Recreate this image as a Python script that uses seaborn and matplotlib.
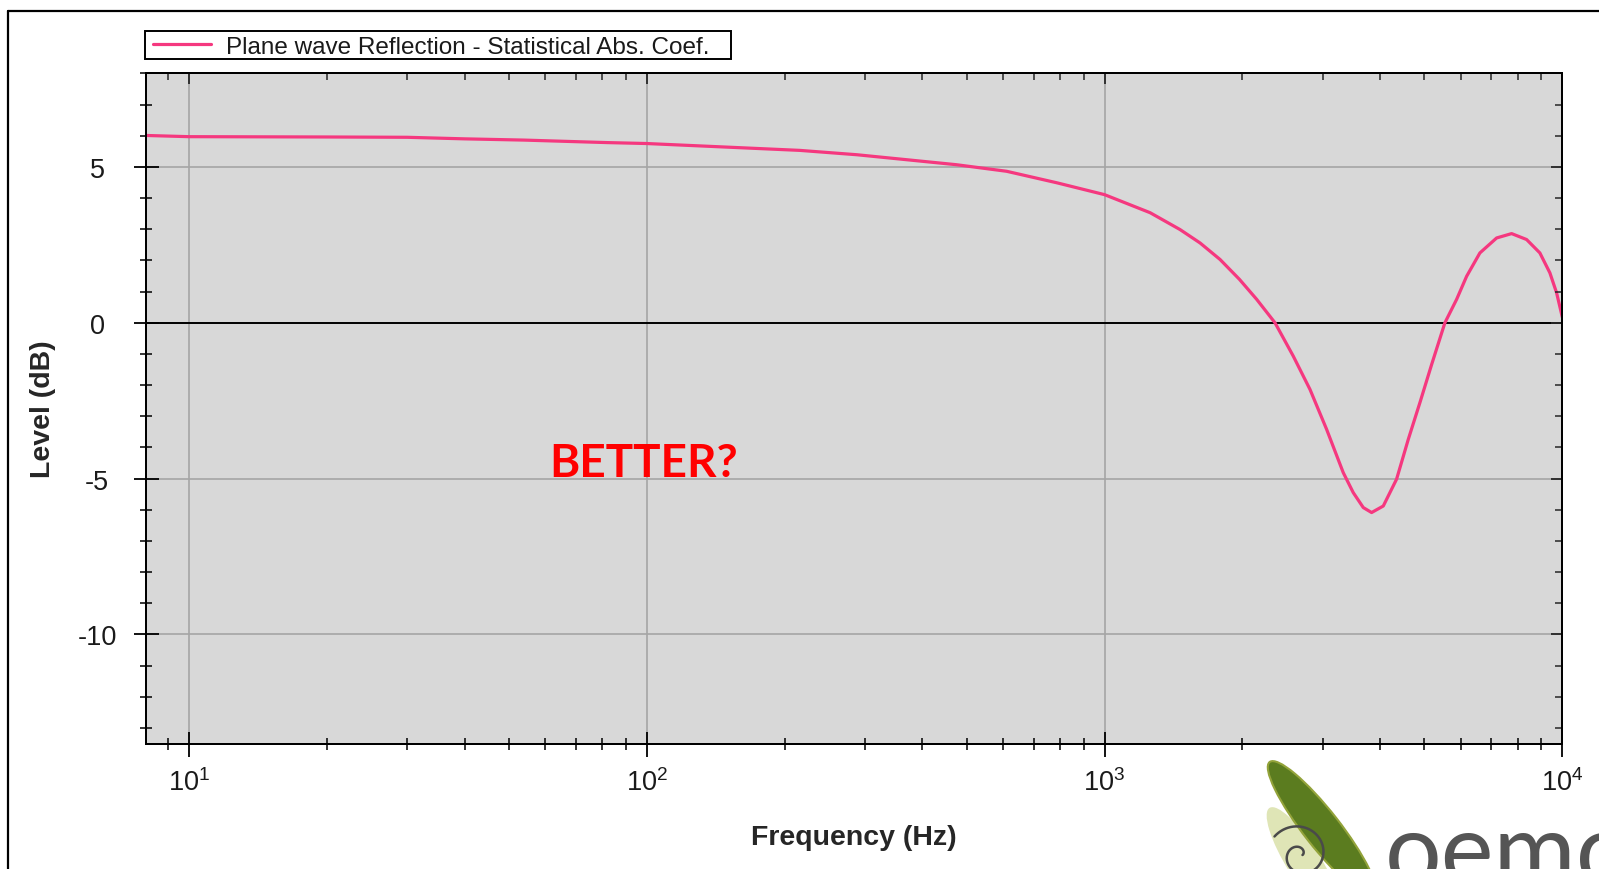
import numpy as np
import pandas as pd
import matplotlib
matplotlib.use("Agg")
import matplotlib.pyplot as plt
import seaborn as sns
from matplotlib.lines import Line2D
from matplotlib.patches import Ellipse, Rectangle
from matplotlib.transforms import IdentityTransform
from matplotlib.ticker import LogLocator, MultipleLocator, NullFormatter

# Plane-wave reflection level versus frequency
freq_hz = [8, 10, 20, 30, 40, 54, 70, 82, 100, 147, 216, 288, 370, 475, 611,
           787, 1000, 1258, 1462, 1617, 1788, 1972, 2150, 2357, 2584, 2811,
           3056, 3323, 3494, 3675, 3832, 4064, 4345, 4609, 4887, 5183, 5541,
           5877, 6180, 6607, 7187, 7750, 8356, 8933, 9395, 9717, 10000]
level_db = [6.01, 5.97, 5.96, 5.95, 5.90, 5.86, 5.81, 5.78, 5.75, 5.64, 5.53,
            5.39, 5.23, 5.07, 4.86, 4.49, 4.11, 3.53, 2.99, 2.56, 2.03, 1.39,
            0.75, 0.00, -1.07, -2.14, -3.42, -4.81, -5.45, -5.93, -6.09, -5.88,
            -5.02, -3.74, -2.56, -1.34, 0.00, 0.75, 1.49, 2.24, 2.72, 2.86,
            2.67, 2.24, 1.60, 0.96, 0.18]
series_label = "Plane wave Reflection - Statistical Abs. Coef."
x_label = "Frequency (Hz)"
y_label = "Level (dB)"
y_major_ticks = [-10, -5, 0, 5]
note_text = "BETTER?"
logo_text = "oemo"

df = pd.DataFrame({"Frequency": freq_hz, "Level": level_db})

sns.set_style("ticks")
plt.rcParams["font.family"] = ["Liberation Sans", "DejaVu Sans"]
plt.rcParams["mathtext.fontset"] = "custom"
plt.rcParams["mathtext.rm"] = "Liberation Sans"
plt.rcParams["mathtext.it"] = "Liberation Sans"
plt.rcParams["axes.unicode_minus"] = False

W, H = 1599, 870
fig = plt.figure(figsize=(W / 100, H / 100), dpi=100, facecolor="white")
ax = fig.add_axes([145.8 / W, 125.5 / H, (1562.3 - 145.8) / W, (795.6 - 125.5) / H])
ax.set_facecolor("#d8d8d8")

sns.lineplot(data=df, x="Frequency", y="Level", ax=ax, color="#f5387f",
             linewidth=2.3, label=series_label, zorder=5)

ax.set_xscale("log")
ax.set_xlim(8.05, 10000)
ax.set_ylim(-13.5, 8)
ax.xaxis.set_major_locator(LogLocator(base=10, numticks=10))
ax.xaxis.set_minor_locator(LogLocator(base=10, subs=np.arange(2, 10), numticks=20))
ax.xaxis.set_minor_formatter(NullFormatter())
ax.yaxis.set_major_locator(plt.FixedLocator(y_major_ticks))
ax.yaxis.set_minor_locator(MultipleLocator(1))

ax.grid(True, which="major", color="#a5a5a5", linewidth=1.2)
ax.axhline(0, color="black", linewidth=1.4, zorder=3)
ax.set_axisbelow(True)

for s in ax.spines.values():
    s.set_color("black")
    s.set_linewidth(1.4)

ax.tick_params(which="major", direction="inout", length=18, width=1.3,
               color="black", labelsize=19.5, labelcolor="#1a1a1a")
ax.tick_params(axis="x", which="major", pad=9)
ax.tick_params(axis="y", which="major", pad=26)
ax.tick_params(which="minor", direction="inout", length=9, width=1.1, color="black")
for lab in ax.get_yticklabels():
    lab.set_horizontalalignment("center")

ax.set_xlabel(x_label, fontsize=20.5, fontweight="bold", va="center")
ax.set_ylabel(y_label, fontsize=20.5, fontweight="bold", va="center")
ax.xaxis.set_label_coords(0.5, -0.1396)
ax.yaxis.set_label_coords(-0.0726, 0.5)

# inward ticks on the top and right spines
axt = ax.twiny()
axt.set_xscale("log")
axt.set_xlim(ax.get_xlim())
axt.xaxis.set_major_locator(LogLocator(base=10, numticks=10))
axt.xaxis.set_minor_locator(LogLocator(base=10, subs=np.arange(2, 10), numticks=20))
axt.xaxis.set_minor_formatter(NullFormatter())
axt.tick_params(which="major", direction="in", length=8, width=1.3, labeltop=False)
axt.tick_params(which="minor", direction="in", length=5, width=1.1)

axr = ax.twinx()
axr.set_ylim(ax.get_ylim())
axr.yaxis.set_major_locator(MultipleLocator(5))
axr.yaxis.set_minor_locator(MultipleLocator(1))
axr.tick_params(which="major", direction="in", length=8, width=1.3, labelright=False)
axr.tick_params(which="minor", direction="in", length=5, width=1.1)
for a in (axt, axr):
    for s in a.spines.values():
        s.set_color("black")
        s.set_linewidth(1.4)

ax.text(98.2, -4.5, note_text, color="#ff0000", fontsize=33,
        fontweight="bold", family=["Lato", "DejaVu Sans"],
        ha="center", va="center", zorder=6)

# legend with a tight square frame
ax.get_legend().remove()
leg_fs = 17.5
leg = fig.legend(handles=ax.get_lines()[:1], labels=[series_label],
                 loc="center left", bbox_to_anchor=(145 / W, 1 - 47.5 / H),
                 frameon=False, fontsize=leg_fs, borderpad=0.33,
                 borderaxespad=0, handlelength=2.4, handletextpad=0.6)
for t in leg.get_texts():
    t.set_color("#1a1a1a")
fig.canvas.draw()
lbb = leg.get_window_extent()
tbb = leg.get_texts()[0].get_window_extent()
x0 = lbb.x0
x1 = tbb.x1 + 0.9 * leg_fs * 100 / 72
fig.add_artist(Rectangle((x0, H - 59.5), x1 - x0, 27.5, transform=IdentityTransform(),
                         fill=False, edgecolor="black", linewidth=1.4))

# page frame
fig.add_artist(Line2D([8, W], [H - 12, H - 12], transform=IdentityTransform(),
                      color="black", linewidth=1.6))
fig.add_artist(Line2D([8, 8], [0, H - 12], transform=IdentityTransform(),
                      color="black", linewidth=1.6))

# logo in the lower right corner
fig.add_artist(Ellipse((1304, 6), 130, 34, angle=-58, transform=IdentityTransform(),
                       facecolor="#dfe5b6", edgecolor="none"))
th = np.linspace(0, 2.8 * np.pi, 300)
r = 2.5 + 3.3 * th
fig.add_artist(Line2D(1300 + r * np.cos(th), 14 + r * np.sin(th),
                      transform=IdentityTransform(), color="#4a4a4a", linewidth=1.8))
fig.add_artist(Ellipse((1322, 40), 170, 36, angle=-52, transform=IdentityTransform(),
                       facecolor="#5b7c1f", edgecolor="#93a33a", linewidth=1.5))
fig.text(1385 / W, -15 / H, logo_text, fontsize=72, color="#555555",
         family=["Lato", "DejaVu Sans"], fontweight="normal",
         ha="left", va="baseline")

fig.savefig("out.png", dpi=100, facecolor="white")
